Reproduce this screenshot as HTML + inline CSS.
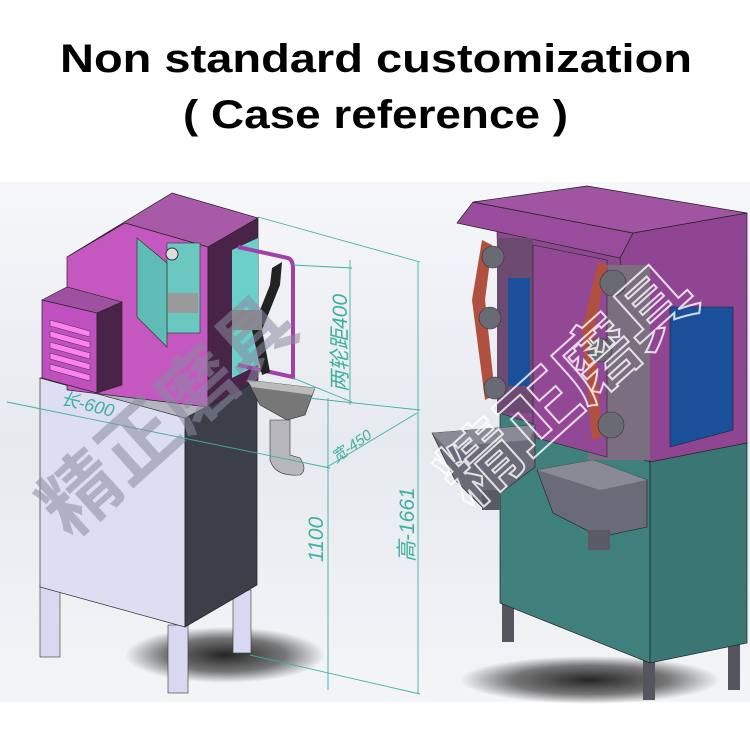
<!DOCTYPE html>
<html><head><meta charset="utf-8"><style>html,body{margin:0;padding:0;background:#fff}svg{display:block}</style></head><body>
<svg width="750" height="750" viewBox="0 0 750 750" xmlns="http://www.w3.org/2000/svg">
<defs>
<linearGradient id="bg" x1="0" y1="0" x2="0" y2="1"><stop offset="0" stop-color="#f6f7f9"/><stop offset="0.5" stop-color="#e6e9ee"/><stop offset="1" stop-color="#f4f5f7"/></linearGradient>
<radialGradient id="sh" cx="0.5" cy="0.5" r="0.5"><stop offset="0" stop-color="#1a1a1a" stop-opacity="0.95"/><stop offset="0.6" stop-color="#222" stop-opacity="0.6"/><stop offset="1" stop-color="#222" stop-opacity="0"/></radialGradient>
</defs>
<rect width="750" height="750" fill="#fff"/>
<text x="60" y="72" font-family="Liberation Sans, sans-serif" font-weight="bold" font-size="40" textLength="632" lengthAdjust="spacingAndGlyphs">Non standard customization</text>
<text x="183" y="128" font-family="Liberation Sans, sans-serif" font-weight="bold" font-size="40" textLength="385" lengthAdjust="spacingAndGlyphs">( Case reference )</text>
<rect x="0" y="182" width="750" height="520" fill="url(#bg)"/>

<!-- LEFT MACHINE -->
<ellipse cx="225" cy="655" rx="100" ry="28" fill="url(#sh)"/>
<rect x="40" y="585" width="20" height="72" fill="#d8d8f0" stroke="#333" stroke-width="0.6"/>
<rect x="233" y="590" width="18" height="63" fill="#d8d8f0" stroke="#333" stroke-width="0.6"/>
<rect x="168" y="625" width="20" height="68" fill="#d8d8f0" stroke="#333" stroke-width="0.6"/>
<polygon points="40,378 185,418 185,627 40,587" fill="#dedef2" stroke="#333" stroke-width="0.7"/>
<polygon points="185,418 257,380 257,585 185,627" fill="#3c3f4a" stroke="#222" stroke-width="0.7"/>
<polygon points="40,378 110,360 257,380 185,418" fill="#b4b4be" stroke="#333" stroke-width="0.6"/>
<polygon points="67,257 172,193 258,218 208,247 125,223" fill="#a85aa8" stroke="#222" stroke-width="0.7"/>
<polygon points="67,257 125,223 208,247 208,407 67,390" fill="#c458c0" stroke="#222" stroke-width="0.7"/>
<polygon points="208,247 258,218 258,380 208,407" fill="#4a2448" stroke="#222" stroke-width="0.7"/>
<polygon points="232,250 258,238 258,365 232,378" fill="#6ad0c8"/>
<rect x="167" y="243" width="33" height="90" fill="#6ac8c0" stroke="#333" stroke-width="0.6"/>
<rect x="168" y="293" width="30" height="20" fill="#9a9a9a"/>
<circle cx="172" cy="254" r="6" fill="#ddd" stroke="#333"/>
<polygon points="137,238 167,263 167,347 137,317" fill="#5fbcb4" stroke="#333" stroke-width="0.7"/>
<polygon points="42,300 67,287 122,302 97,313" fill="#a050a0" stroke="#222" stroke-width="0.6"/>
<polygon points="42,300 97,313 97,393 42,378" fill="#c050c0" stroke="#222" stroke-width="0.7"/>
<polygon points="97,313 122,302 122,385 97,393" fill="#4a2448" stroke="#222" stroke-width="0.6"/>
<g fill="#ff80f0" stroke="#333" stroke-width="0.5">
<polygon points="50,320 90,331 90,337 50,326"/><polygon points="50,331 90,342 90,348 50,337"/><polygon points="50,342 90,353 90,359 50,348"/><polygon points="50,353 90,364 90,370 50,359"/><polygon points="50,364 90,375 90,381 50,370"/>
</g>
<path d="M238,247 L288,258 Q293,260 293,268 L293,377 L238,365" fill="none" stroke="#a040a8" stroke-width="4"/>
<path d="M272,268 L282,262 L280,285 L262,330 L270,372 L262,375 L252,330 L270,285 Z" fill="#222"/>
<rect x="232" y="310" width="30" height="20" fill="#888"/>
<polygon points="247,380 315,388 305,415 287,420 260,405" fill="#777" stroke="#333" stroke-width="0.6"/>
<polygon points="247,380 315,388 312,395 252,387" fill="#bbb"/>
<path d="M270,420 L270,460 Q275,477 300,475 Q308,470 300,458 L290,455 L290,420 Z" fill="#b8b8bc" stroke="#333" stroke-width="0.6"/>
<g stroke="#3fb0a0" stroke-width="0.9" fill="none">
<line x1="7" y1="402" x2="330" y2="468"/>
<line x1="327" y1="467" x2="417" y2="413"/>
<line x1="258" y1="217" x2="420" y2="262"/>
<line x1="293" y1="265" x2="352" y2="268"/>
<line x1="293" y1="378" x2="352" y2="402"/>
<line x1="350" y1="260" x2="350" y2="405"/>
<line x1="328" y1="398" x2="328" y2="690"/>
<line x1="418" y1="262" x2="418" y2="694"/>
<line x1="250" y1="655" x2="420" y2="694"/>
<line x1="308" y1="398" x2="420" y2="410"/>
</g>
<g font-family="Liberation Sans, 'Noto Sans CJK SC', sans-serif" font-style="italic" fill="#3fb0a0">
<text transform="translate(60,404) rotate(14)" font-size="18">长-600</text>
<text transform="translate(336,463) rotate(-35)" font-size="15">宽-450</text>
<text transform="translate(347,392) rotate(-90)" font-size="21">两轮距400</text>
<text transform="translate(323,562) rotate(-90)" font-size="21">1100</text>
<text transform="translate(414,562) rotate(-90)" font-size="21">高-1661</text>
</g>

<!-- RIGHT MACHINE -->
<ellipse cx="590" cy="680" rx="130" ry="24" fill="url(#sh)"/>
<rect x="502" y="600" width="12" height="42" fill="#55555f"/>
<rect x="643" y="655" width="12" height="45" fill="#55555f"/>
<rect x="728" y="640" width="12" height="50" fill="#55555f"/>
<polygon points="500,413 650,460 650,663 500,603" fill="#3f807d" stroke="#222" stroke-width="0.7"/>
<polygon points="650,460 747,443 747,643 650,663" fill="#3a7674" stroke="#222" stroke-width="0.7"/>
<polygon points="497,230 620,258 650,280 650,462 500,413" fill="#8a4a8c" stroke="#222" stroke-width="0.6"/>
<polygon points="620,258 633,233 747,213 747,443 650,462" fill="#8f4592" stroke="#222" stroke-width="0.7"/>
<polygon points="457,223 473,202 633,233 620,258" fill="#9a4c9c" stroke="#222" stroke-width="0.7"/>
<polygon points="473,202 587,186 747,213 633,233" fill="#a054a2" stroke="#222" stroke-width="0.7"/>
<rect x="497" y="238" width="36" height="175" fill="#6d4a72"/>
<rect x="508" y="278" width="22" height="108" fill="#1a4f9a"/>
<rect x="588" y="265" width="62" height="195" fill="#7a6e80"/>
<polygon points="533,245 607,260 607,457 533,437" fill="#934896" stroke="#222" stroke-width="0.6"/>
<polygon points="670,307 733,307 733,430 670,447" fill="#1a4f9a" stroke="#222" stroke-width="0.6"/>
<path d="M482,240 L472,300 L485,400 L495,395 L485,300 L492,245 Z" fill="#b05040"/>
<path d="M598,262 L582,330 L592,440 L602,437 L594,330 L608,265 Z" fill="#b05040"/>
<g fill="#6a6a74" stroke="#333" stroke-width="0.6">
<circle cx="493" cy="257" r="11"/><circle cx="490" cy="318" r="11"/><circle cx="495" cy="388" r="11"/>
<circle cx="613" cy="283" r="13"/><circle cx="600" cy="350" r="12"/><circle cx="611" cy="425" r="13"/>
</g>
<polygon points="432,433 535,425 535,467 482,507 455,480" fill="#6a6a78" stroke="#222" stroke-width="0.6"/>
<polygon points="432,433 535,425 530,440 445,447" fill="#8a8a96"/>
<rect x="482" y="490" width="18" height="20" fill="#5a5a66"/>
<polygon points="537,470 593,460 647,480 647,527 600,537 553,513" fill="#6a6a78" stroke="#222" stroke-width="0.6"/>
<polygon points="537,470 593,460 647,480 600,490" fill="#8a8a96"/>
<rect x="588" y="530" width="22" height="20" fill="#5a5a66"/>

<g font-family="'Noto Sans CJK SC', sans-serif" font-weight="bold" fill="#8a8aa0" fill-opacity="0.55">
<text transform="translate(70,540) rotate(-42)" font-size="78">精正磨具</text>
</g>
<g font-family="'Noto Sans CJK SC', sans-serif" font-weight="bold" fill="none" stroke="#fff" stroke-width="2" stroke-opacity="0.8">
<text transform="translate(470,510) rotate(-42)" font-size="78">精正磨具</text>
</g>
</svg>
</body></html>
